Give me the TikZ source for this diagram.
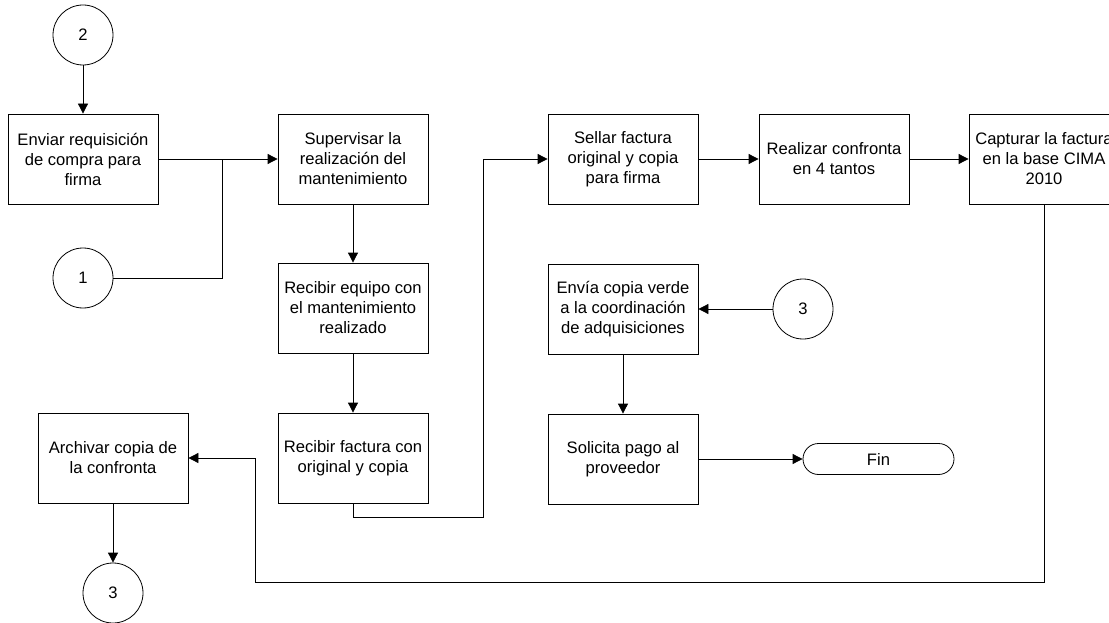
\documentclass[tikz,border=0pt]{standalone}
\usepackage{fontspec}
\setmainfont{Liberation Sans}
\usetikzlibrary{arrows.meta,shapes.misc}

\begin{document}
\begin{tikzpicture}[x=1pt,y=-1pt,
  txt/.style={font=\fontsize{16.6}{20}\selectfont},
  proc/.style={txt, draw, line width=0.8pt, minimum width=150pt, minimum height=90pt,
    align=center, inner sep=0pt},
  conn/.style={txt, draw, line width=0.8pt, circle, minimum size=60pt, inner sep=0pt},
  term/.style={txt, draw, line width=0.8pt, rounded rectangle, minimum width=151pt,
    minimum height=31pt, inner sep=0pt},
  link/.style={line width=0.8pt},
  flow/.style={link, -{Triangle[length=10pt,width=10pt]}}]

\useasboundingbox (0,0) rectangle (1109,623);
\clip (0,0) rectangle (1109,623);

% process steps
\node[conn] (c2) at (83,35) {2};
\node[proc] (enviar) at (83,159) {Enviar requisición\\de compra para\\firma};
\node[proc] (super) at (353,159) {Supervisar la\\realización del\\mantenimiento};
\node[conn] (c1) at (83,278) {1};
\node[proc] (equipo) at (353,308) {Recibir equipo con\\el mantenimiento\\realizado};
\node[proc] (factura) at (353,458) {Recibir factura con\\original y copia};
\node[proc] (archivar) at (113,458) {Archivar copia de\\la confronta};
\node[conn] (c3a) at (113,593) {3};
\node[proc] (sellar) at (623,159) {Sellar factura\\original y copia\\para firma};
\node[proc] (realizar) at (834,159) {Realizar confronta\\en 4 tantos};
\node[proc] (capturar) at (1044,159) {Capturar la factura\\en la base CIMA\\2010};
\node[proc] (envia) at (623,309) {Envía copia verde\\a la coordinación\\de adquisiciones};
\node[conn] (c3b) at (803,309) {3};
\node[proc] (solicita) at (623,459) {Solicita pago al\\proveedor};
\node[term] (fin) at (878.5,459) {Fin};

% bend points of the routed connectors
\coordinate (j1) at (222,159);
\coordinate (k1) at (483,517);
\coordinate (m1) at (255,582);

% connectors
\draw[flow] (c2) -- (enviar);
\draw[flow] (enviar) -- (super);
\draw[link] (c1.east) -| (j1);
\draw[flow] (super) -- (equipo);
\draw[flow] (equipo) -- (factura);
\draw[flow] (factura.south) |- (k1) |- (sellar.west);
\draw[flow] (sellar) -- (realizar);
\draw[flow] (realizar) -- (capturar);
\draw[flow] (capturar.south) |- (m1) |- (archivar.east);
\draw[flow] (archivar) -- (c3a);
\draw[flow] (c3b) -- (envia);
\draw[flow] (envia) -- (solicita);
\draw[flow] (solicita) -- (fin);
\end{tikzpicture}
\end{document}
